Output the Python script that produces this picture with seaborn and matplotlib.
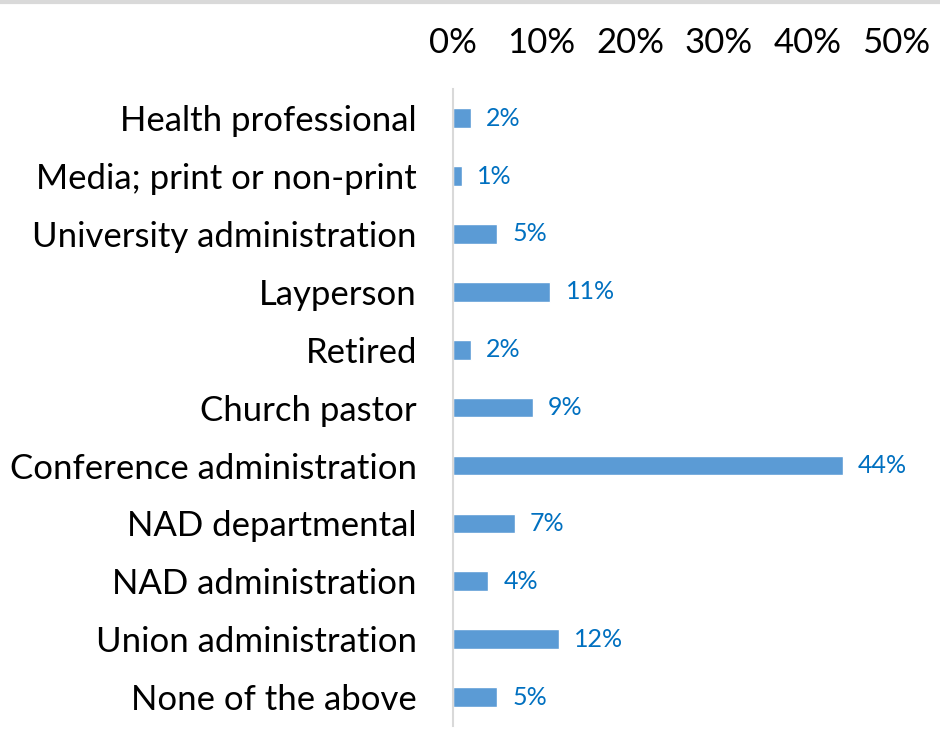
import pandas as pd
import numpy as np
import matplotlib
matplotlib.use("Agg")
import matplotlib.pyplot as plt
import seaborn as sns
from matplotlib.lines import Line2D

# ----------------------------------------------------
# Data
# ----------------------------------------------------
roles = [
    "Health professional",
    "Media; print or non-print",
    "University administration",
    "Layperson",
    "Retired",
    "Church pastor",
    "Conference administration",
    "NAD departmental",
    "NAD administration",
    "Union administration",
    "None of the above",
]
share_pct = [2, 1, 5, 11, 2, 9, 44, 7, 4, 12, 5]
x_ticks = [0, 10, 20, 30, 40, 50]

df = pd.DataFrame({"role": roles, "share": share_pct})

bar_color = "#5B9BD5"
label_color = "#0070C0"

sns.set_theme(style="white")
plt.rcParams["font.family"] = ["Lato", "DejaVu Sans"]

fig = plt.figure(figsize=(9.4, 7.5), dpi=100)
ax = fig.add_axes([0.482, 0.032, 0.471, 0.849])

sns.barplot(data=df, x="share", y="role", orient="h", color=bar_color,
            width=0.34, saturation=1, ax=ax)

# data labels
for i, v in enumerate(df["share"]):
    ax.text(v + 1.7, i, f"{v}%", va="center", ha="left",
            fontsize=18, color=label_color)

ax.set_xlim(0, 50)
ax.set_ylim(10.5, -0.5)
ax.set_xticks(x_ticks)
ax.set_xticklabels([f"{t}%" for t in x_ticks])
ax.xaxis.tick_top()
ax.tick_params(axis="x", length=0, labelsize=25, pad=22, colors="black")
ax.tick_params(axis="y", length=0, labelsize=25, pad=26, colors="black")
ax.set_xlabel("")
ax.set_ylabel("")

for side in ["top", "right", "bottom"]:
    ax.spines[side].set_visible(False)
ax.spines["left"].set_color("#D9D9D9")
ax.spines["left"].set_linewidth(1.5)

# faint border at the top of the image
fig.add_artist(Line2D([0, 1], [0.997, 0.997], transform=fig.transFigure,
                      color="#D9D9D9", linewidth=3))

fig.savefig("out.png", dpi=100)
